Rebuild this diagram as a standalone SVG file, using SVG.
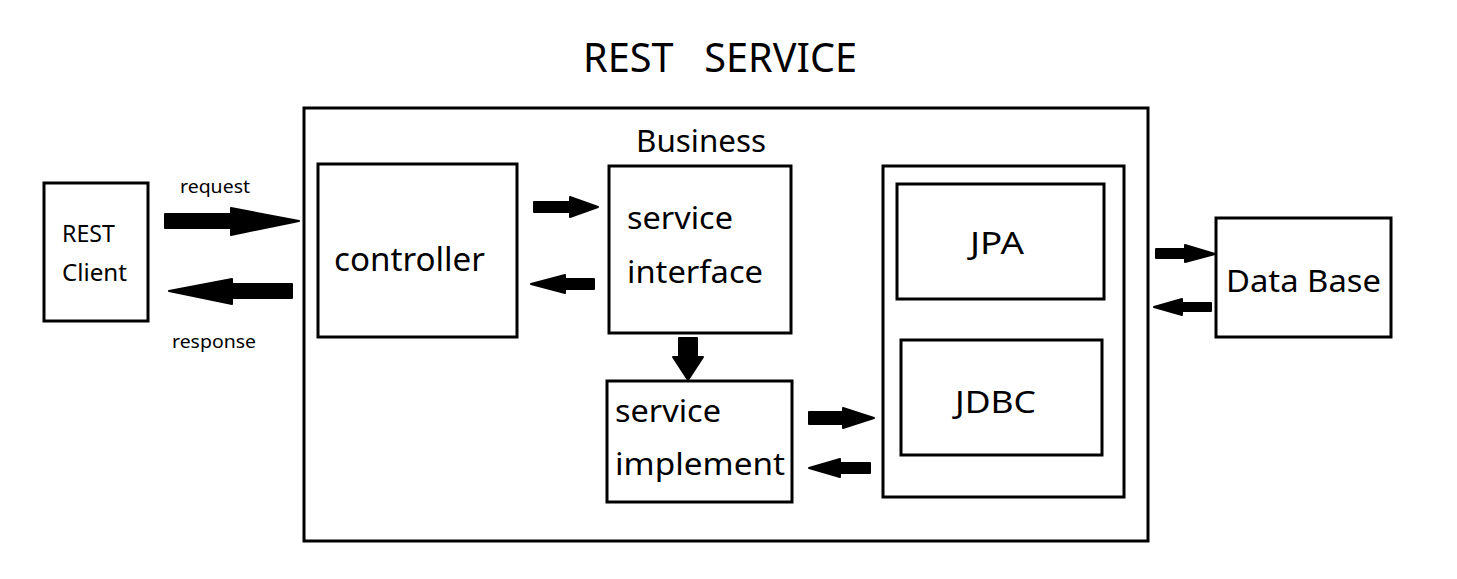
<svg xmlns="http://www.w3.org/2000/svg" width="1457" height="579" viewBox="0 0 1457 579">
<style>
.box{fill:#fff;stroke:#000;stroke-width:3}
.t{font-family:"Noto Sans","Open Sans",sans-serif;fill:#000}
.ar{fill:#000;stroke:#000;stroke-width:2;stroke-linejoin:round}
</style>
<rect width="1457" height="579" fill="#fff"/>
<text class="t" x="583" y="72" font-size="40" textLength="274" lengthAdjust="spacingAndGlyphs" xml:space="preserve">REST   SERVICE</text>
<g id="rest-service">
<rect class="box" x="304" y="108" width="844" height="433"/>
<text class="t" x="636" y="152" font-size="31" textLength="130" lengthAdjust="spacingAndGlyphs">Business</text>
</g>
<g id="client">
<rect class="box" x="44" y="183" width="104" height="138"/>
<text class="t" x="62" y="242" font-size="23" textLength="53" lengthAdjust="spacingAndGlyphs">REST</text>
<text class="t" x="62" y="281" font-size="23" textLength="65" lengthAdjust="spacingAndGlyphs">Client</text>
</g>
<g id="controller">
<rect class="box" x="318" y="164" width="199" height="173"/>
<text class="t" x="334" y="271" font-size="32" textLength="151" lengthAdjust="spacingAndGlyphs">controller</text>
</g>
<g id="service-interface">
<rect class="box" x="609" y="166" width="182" height="167"/>
<text class="t" x="627" y="229" font-size="31" textLength="106" lengthAdjust="spacingAndGlyphs">service</text>
<text class="t" x="627" y="283" font-size="31" textLength="136" lengthAdjust="spacingAndGlyphs">interface</text>
</g>
<g id="service-implement">
<rect class="box" x="607" y="381" width="185" height="121"/>
<text class="t" x="615" y="422" font-size="31" textLength="106" lengthAdjust="spacingAndGlyphs">service</text>
<text class="t" x="615" y="475" font-size="31" textLength="170" lengthAdjust="spacingAndGlyphs">implement</text>
</g>
<g id="persistence">
<rect class="box" x="883" y="166" width="241" height="331"/>
</g>
<g id="jpa">
<rect class="box" x="897" y="184" width="207" height="115"/>
<text class="t" x="970" y="254" font-size="31" textLength="54" lengthAdjust="spacingAndGlyphs">JPA</text>
</g>
<g id="jdbc">
<rect class="box" x="901" y="340" width="201" height="115"/>
<text class="t" x="955" y="413" font-size="31" textLength="81" lengthAdjust="spacingAndGlyphs">JDBC</text>
</g>
<g id="database">
<rect class="box" x="1216" y="218" width="175" height="119"/>
<text class="t" x="1226" y="292" font-size="31" textLength="155" lengthAdjust="spacingAndGlyphs">Data Base</text>
</g>
<g id="connectors">
<text class="t" x="180" y="193" font-size="18" textLength="70" lengthAdjust="spacingAndGlyphs">request</text>
<text class="t" x="172" y="348" font-size="18" textLength="84" lengthAdjust="spacingAndGlyphs">response</text>
<polygon class="ar" points="165,214 231,214 231,208 299,221 231,235 231,228 165,228"/>
<polygon class="ar" points="292,284 232,284 232,279 169,291 232,304 232,298 292,298"/>
<polygon class="ar" points="534,202 570,202 570,197 598,207 570,217 570,212 534,212"/>
<polygon class="ar" points="594,279 565,279 565,275 531,284 565,293 565,289 594,289"/>
<polygon class="ar" points="679,338 697,338 697,357 703,357 688,380 673,357 679,357"/>
<polygon class="ar" points="809,412 843,412 843,408 874,418 843,428 843,424 809,424"/>
<polygon class="ar" points="870,463 840,463 840,459 809,468 840,477 840,473 870,473"/>
<polygon class="ar" points="1156,249 1185,249 1185,245 1215,254 1185,262 1185,258 1156,258"/>
<polygon class="ar" points="1211,303 1182,303 1182,299 1154,307 1182,315 1182,311 1211,311"/>
</g>
</svg>
